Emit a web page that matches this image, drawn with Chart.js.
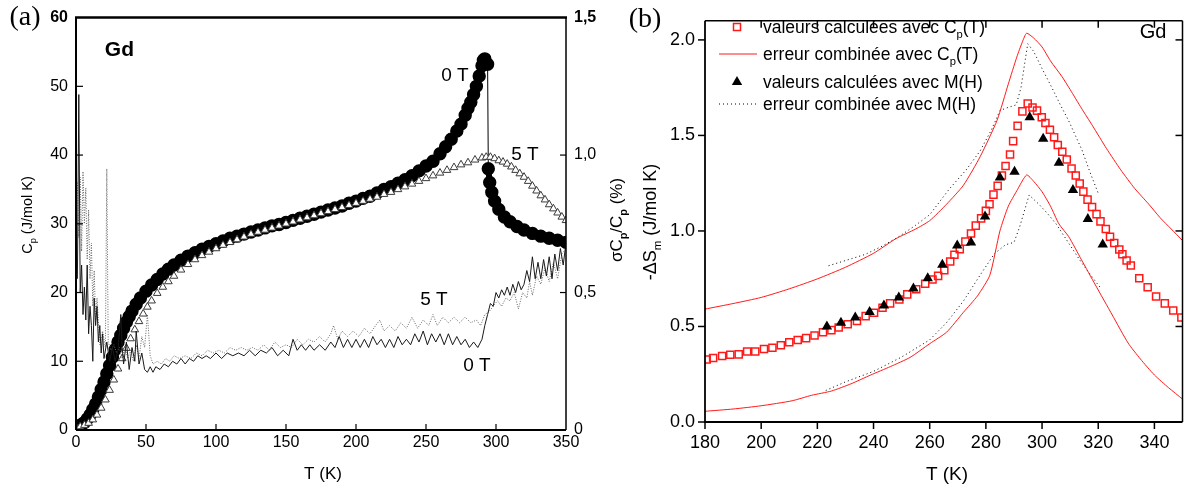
<!DOCTYPE html>
<html>
<head>
<meta charset="utf-8">
<script src="https://cdn.jsdelivr.net/npm/chart.js@4.4.1/dist/chart.umd.min.js"></script>
<style>
  body { margin: 0; background: #fff; width: 1189px; height: 490px; overflow: hidden; position: relative; }
  #wa { position: absolute; left: 0; top: 0; width: 600px; height: 490px; }
  #wb { position: absolute; left: 600px; top: 0; width: 589px; height: 490px; }
</style>
</head>
<body>
<div id="wa"><canvas id="ca"></canvas></div>
<div id="wb"><canvas id="cb"></canvas></div>
<script>
// ---- panel (a): Cp(T) of Gd, 0 T and 5 T ----
const cp0T_T = [0, 2, 4, 6, 8, 10, 12, 14, 16, 18, 20, 22, 24, 26, 28, 30, 32, 34, 36, 38, 40, 43, 46, 50, 54, 58, 62, 66, 70, 75,
  80, 85, 90, 95, 100, 105, 110, 115, 120, 125, 130, 135, 140, 145, 150, 155, 160, 165, 170, 175, 180, 185, 190, 195, 200,
  205, 210, 215, 220, 225, 230, 235, 240, 245, 250, 255, 260, 264, 268, 272, 275, 278, 280, 282, 284, 286, 288, 290, 291, 292, 294,
  294.5, 295.5, 297, 299, 302, 306, 310, 315, 320, 326, 332, 338, 344, 350];
const cp0T = [0.5, 0.6, 0.8, 1.1, 1.6, 2.2, 3.0, 3.8, 4.8, 5.9, 7.0, 8.2, 9.4, 10.6, 11.7, 12.8, 13.8, 14.8, 15.7, 16.5, 17.3, 18.3, 19.2, 20.2, 21.1, 21.9, 22.7, 23.4, 24.0, 24.7,
  25.3, 25.8, 26.3, 26.7, 27.1, 27.5, 27.9, 28.2, 28.5, 28.8, 29.1, 29.4, 29.7, 29.9, 30.2, 30.5, 30.8, 31.1, 31.4, 31.7, 32.0, 32.3, 32.6, 33.0, 33.3,
  33.7, 34.0, 34.5, 35.0, 35.4, 35.9, 36.4, 37.0, 37.7, 38.4, 39.1, 40.2, 41.2, 42.3, 43.5, 44.5, 45.8, 46.8, 47.7, 48.8, 50.0, 51.5, 53.0, 53.8, 54.0, 53.2,
  38.0, 36.0, 34.6, 33.3, 32.1, 31.0, 30.3, 29.6, 29.1, 28.6, 28.2, 27.9, 27.6, 27.3];

const cp5T_T = [0, 3, 6, 9, 12, 15, 18, 21, 24, 27, 30, 33, 36, 39, 42, 45, 48, 51, 54, 58, 62, 66, 70, 75, 80, 85, 90, 95,
  100, 105, 110, 115, 120, 125, 130, 135, 140, 145, 150, 155, 160, 165, 170, 175, 180, 185, 190, 195, 200, 205, 210, 215,
  220, 225, 230, 235, 240, 245, 250, 255, 260, 265, 270, 275, 280, 285, 290, 293, 296, 299, 302, 305, 308, 311, 314, 317,
  320, 323, 326, 329, 332, 335, 338, 341, 344, 347, 350];
const cp5T = [0.4, 0.5, 0.7, 1.0, 1.5, 2.2, 3.2, 4.4, 5.8, 7.3, 8.9, 10.4, 11.9, 13.3, 14.6, 15.8, 16.9, 17.9, 18.8, 19.9, 20.8, 21.6, 22.4, 23.3, 24.1, 24.8, 25.4, 25.9,
  26.4, 26.9, 27.3, 27.7, 28.1, 28.5, 28.8, 29.1, 29.4, 29.7, 30.0, 30.3, 30.6, 30.9, 31.2, 31.5, 31.8, 32.1, 32.4, 32.7, 33.0, 33.3, 33.6, 33.9,
  34.3, 34.6, 35.0, 35.4, 35.8, 36.2, 36.6, 37.0, 37.4, 37.8, 38.2, 38.6, 38.9, 39.3, 39.6, 39.7, 39.7, 39.5, 39.2, 39.0, 38.7, 38.3, 37.8, 37.3,
  36.8, 36.2, 35.5, 34.8, 34.1, 33.5, 32.8, 32.2, 31.6, 31.0, 30.5];

// relative error sigma(Cp)/Cp in %, right axis
const sig0T_T = [1, 2, 3, 4, 5, 6, 7, 8, 9, 10, 11, 12, 13, 14, 15, 16, 17, 18, 19, 20, 22, 24, 26, 28, 30, 32, 33, 34, 36, 38,
  40, 42, 43, 45, 47, 49, 51, 53, 55, 57, 60, 63, 66, 69, 72, 75, 78, 81, 84, 87, 90, 93, 96, 100, 104, 108, 112, 116, 120,
  124, 128, 132, 136, 140, 144, 148, 152, 155, 158, 161, 164, 167, 170, 174, 178, 182, 185, 188, 191, 194, 197, 200, 203,
  206, 209, 212, 215, 218, 221, 224, 227, 230, 233, 236, 239, 242, 245, 248, 251, 254, 257, 260, 263, 266, 269, 272, 275,
  278, 281, 284, 287, 290, 292, 294, 296, 298, 300, 302, 304, 306, 308, 310, 312, 314, 316, 318, 320, 322, 324, 326, 328,
  330, 332, 334, 336, 338, 340, 342, 344, 346, 348, 350];
const sig0T = [0.55, 1.22, 0.50, 0.60, 0.42, 0.52, 0.40, 0.60, 0.35, 0.45, 0.38, 0.25, 0.48, 0.38, 0.45, 0.32, 0.38, 0.28, 0.35, 0.26, 0.32, 0.25, 0.30, 0.25, 0.29, 0.42, 0.30, 0.24, 0.32, 0.22,
  0.30, 0.25, 0.36, 0.24, 0.28, 0.22, 0.21, 0.23, 0.21, 0.23, 0.22, 0.24, 0.23, 0.25, 0.24, 0.26, 0.24, 0.26, 0.25, 0.27, 0.26, 0.27, 0.26, 0.28, 0.26, 0.28, 0.27, 0.28, 0.27,
  0.29, 0.27, 0.29, 0.28, 0.30, 0.27, 0.29, 0.27, 0.33, 0.29, 0.31, 0.29, 0.31, 0.29, 0.31, 0.29, 0.32, 0.30, 0.34, 0.30, 0.33, 0.30, 0.33, 0.30,
  0.33, 0.30, 0.34, 0.31, 0.33, 0.30, 0.33, 0.30, 0.34, 0.31, 0.33, 0.31, 0.35, 0.32, 0.36, 0.31, 0.35, 0.32, 0.35, 0.31, 0.35, 0.31, 0.34, 0.31,
  0.33, 0.30, 0.32, 0.30, 0.33, 0.38, 0.42, 0.46, 0.45, 0.50, 0.48, 0.51, 0.49, 0.52, 0.49, 0.53, 0.50, 0.54, 0.51, 0.53, 0.58, 0.54, 0.63, 0.55,
  0.61, 0.55, 0.62, 0.56, 0.63, 0.55, 0.64, 0.58, 0.66, 0.60, 0.68];

const sig5T_T = [1, 2, 3, 4, 5, 6, 7, 8, 9, 10, 11, 12, 13, 14, 15, 17, 19, 21, 22, 23, 25, 27, 29, 31, 33, 35, 37, 39, 41, 43,
  45, 47, 49, 51, 53, 55, 58, 61, 64, 67, 70, 74, 78, 82, 86, 90, 94, 98, 102, 106, 110, 114, 118, 122, 126, 130, 134,
  138, 142, 146, 150, 154, 158, 162, 166, 170, 174, 178, 182, 184, 187, 190, 194, 198, 202, 206, 210, 214, 217, 220, 224,
  228, 232, 236, 240, 244, 248, 252, 255, 258, 262, 266, 270, 274, 278, 282, 286, 289, 292, 295, 298, 301, 304, 307, 310,
  313, 316, 319, 322, 324, 326, 329, 332, 335, 338, 341, 344, 347, 350];
const sig5T = [0.90, 0.70, 0.92, 0.65, 0.94, 0.75, 0.88, 0.62, 0.80, 0.55, 0.68, 0.45, 0.58, 0.40, 0.48, 0.31, 0.36, 0.30, 0.95, 0.32, 0.29, 0.31, 0.28, 0.30, 0.26, 0.30, 0.26, 0.29, 0.25, 0.31,
  0.26, 0.34, 0.30, 0.42, 0.27, 0.24, 0.25, 0.24, 0.26, 0.25, 0.27, 0.26, 0.27, 0.26, 0.28, 0.27, 0.29, 0.28, 0.29, 0.28, 0.30, 0.29, 0.30, 0.29, 0.30, 0.29, 0.31,
  0.29, 0.32, 0.30, 0.31, 0.30, 0.33, 0.31, 0.33, 0.32, 0.34, 0.32, 0.35, 0.38, 0.33, 0.36, 0.34, 0.36, 0.34, 0.37, 0.35, 0.38, 0.40, 0.36, 0.38,
  0.36, 0.39, 0.37, 0.41, 0.37, 0.40, 0.38, 0.42, 0.38, 0.41, 0.39, 0.41, 0.39, 0.41, 0.39, 0.40, 0.38, 0.42, 0.43, 0.45, 0.47, 0.45, 0.48, 0.47,
  0.50, 0.44, 0.50, 0.48, 0.54, 0.49, 0.56, 0.53, 0.59, 0.54, 0.61, 0.55, 0.64, 0.66];

// ---- panel (b): -dSm(T) of Gd ----
const cpT_T = [180.6, 182.9, 186.1, 189, 192, 195, 197.9, 201, 204, 207, 210, 213, 216, 219, 222, 225, 227.6, 230.8, 234.1,
  237.2, 240.2, 243.2, 245.9, 249.2, 252, 255.2, 258.4, 261, 263, 265.2, 267.3, 268.8, 270.7, 272.7, 274.7, 276.4, 278.3, 280,
  281.3, 282.7, 284.2, 285.7, 287, 288.6, 289.7, 291.3, 293, 294.9, 296.6, 298.2, 299.9, 301.2, 302.8, 304.3, 305.6, 307.2,
  308.8, 310.5, 312, 313.4, 314.7, 316.2, 317.8, 319.4, 320.8, 322.7, 324.2, 325.7, 327.5, 328.6, 330.1, 331.6, 334.6, 337.6,
  340.6, 343.7, 346.7, 349.6];
const cpT_dS = [0.327, 0.335, 0.345, 0.352, 0.354, 0.369, 0.369, 0.382, 0.389, 0.402, 0.417, 0.429, 0.439, 0.453, 0.470, 0.481, 0.495, 0.512, 0.529,
  0.554, 0.572, 0.598, 0.621, 0.641, 0.668, 0.695, 0.724, 0.746, 0.765, 0.795, 0.84, 0.875, 0.905, 0.944, 0.987, 1.028, 1.066, 1.105,
  1.14, 1.19, 1.236, 1.29, 1.34, 1.40, 1.47, 1.55, 1.626, 1.667, 1.646, 1.63, 1.595, 1.565, 1.53, 1.49, 1.45, 1.415,
  1.374, 1.327, 1.29, 1.248, 1.206, 1.164, 1.125, 1.088, 1.05, 1.01, 0.97, 0.937, 0.903, 0.878, 0.845, 0.819, 0.752, 0.705,
  0.657, 0.621, 0.584, 0.547];

const mH_T = [223.4, 228.4, 233.5, 238.6, 243.7, 249, 254.2, 259.3, 264.5, 269.8, 274.7, 279.7, 285, 290.2, 295.6, 300.4, 306, 311, 316.3, 321.6];
const mH_dS = [0.500, 0.52, 0.547, 0.576, 0.61, 0.652, 0.699, 0.752, 0.823, 0.924, 0.94, 1.075, 1.28, 1.31, 1.595, 1.483, 1.357, 1.214, 1.063, 0.929];

const errCpHi_T = [180, 190, 200, 210, 220, 230, 240, 248, 255, 260, 266, 272, 278, 284, 288, 291, 293, 294.5, 297, 300, 303, 307, 310, 314, 318, 323, 328, 333, 338, 342, 346, 350];
const errCpHi = [0.591, 0.62, 0.652, 0.697, 0.749, 0.81, 0.883, 0.96, 1.01, 1.054, 1.14, 1.239, 1.39, 1.58, 1.77, 1.91, 1.99, 2.035, 2.01, 1.963, 1.89, 1.81, 1.74, 1.643, 1.55, 1.43, 1.32, 1.222, 1.14, 1.07, 1.01, 0.95];
const errCpLo_T = [180, 190, 200, 211, 218, 225, 232, 239, 246, 253, 260, 266, 272, 277, 281.4, 285, 288, 291, 294.5, 297, 300, 303, 306, 309.5, 314, 319, 325, 330.6, 335, 340, 345, 350];
const errCpLo = [0.056, 0.068, 0.085, 0.111, 0.14, 0.162, 0.2, 0.246, 0.29, 0.338, 0.41, 0.47, 0.574, 0.66, 0.768, 1.0, 1.13, 1.21, 1.293, 1.26, 1.205, 1.13, 1.037, 0.97, 0.85, 0.717, 0.56, 0.414, 0.33, 0.246, 0.18, 0.12];

const errMHi_T = [224, 230, 237, 243, 249, 255, 260, 267, 273, 278, 282, 285, 287.2, 290.8, 292.5, 294.9, 297, 300, 303.7, 306.5, 309.5, 314.2, 317, 320];
const errMHi = [0.818, 0.845, 0.877, 0.92, 0.97, 1.03, 1.085, 1.22, 1.32, 1.42, 1.53, 1.63, 1.643, 1.66, 1.75, 1.98, 1.94, 1.85, 1.744, 1.66, 1.576, 1.424, 1.31, 1.197];
const errMLo_T = [223, 230, 240, 250, 260, 266, 272, 278, 283, 287, 290, 292, 295.4, 299, 302, 305, 309.5, 314, 320, 321];
const errMLo = [0.165, 0.21, 0.265, 0.34, 0.43, 0.52, 0.633, 0.77, 0.88, 0.928, 0.94, 1.02, 1.188, 1.138, 1.09, 1.037, 0.936, 0.835, 0.717, 0.7];

const SANS = "'Liberation Sans', Arial, Helvetica, sans-serif";
const SERIF = "'Liberation Serif', 'Times New Roman', serif";
const RED = '#ff1a1a';

Chart.defaults.color = '#000';

const pts = (xs, ys) => xs.map((x, i) => ({ x: x, y: ys[i] }));

function seg(ctx, x1, y1, x2, y2, w) {
  ctx.lineWidth = w;
  ctx.beginPath();
  ctx.moveTo(x1, y1);
  ctx.lineTo(x2, y2);
  ctx.stroke();
}

// text with subscripts: parts = [{t, sub, b}]
function richText(ctx, parts, x, y, size, opts) {
  const o = Object.assign({ align: 'center', rot: 0 }, opts);
  const fontOf = p => (p.b ? 'bold ' : '') + (p.sub ? size * 0.64 : size) + 'px ' + SANS;
  ctx.save();
  ctx.translate(x, y);
  ctx.rotate(o.rot);
  ctx.fillStyle = '#000';
  ctx.textBaseline = 'middle';
  ctx.textAlign = 'left';
  let w = 0;
  parts.forEach(p => { ctx.font = fontOf(p); w += ctx.measureText(p.t).width; });
  let cx = o.align === 'center' ? -w / 2 : 0;
  parts.forEach(p => {
    ctx.font = fontOf(p);
    ctx.fillText(p.t, cx, p.sub ? size * 0.4 : 0);
    cx += ctx.measureText(p.t).width;
  });
  ctx.restore();
}

const decorA = {
  id: 'decorA',
  afterDraw(chart) {
    const { ctx, chartArea: a, scales } = chart;
    const x = scales.x, y = scales.y, y1 = scales.y1;
    ctx.save();
    ctx.strokeStyle = '#000';
    seg(ctx, a.left - 1, a.top, a.right + 1, a.top, 2.5);
    seg(ctx, a.left, a.top, a.left, a.bottom, 2);
    seg(ctx, a.right, a.top, a.right, a.bottom, 1.5);
    seg(ctx, a.left, a.bottom, a.right, a.bottom, 2);
    // inward ticks
    x.ticks.forEach(t => {
      if (t.value <= x.min || t.value >= x.max) return;
      const px = x.getPixelForValue(t.value);
      seg(ctx, px, a.bottom, px, a.bottom - 6, 1.2);
    });
    y.ticks.forEach(t => {
      if (t.value <= y.min || t.value >= y.max) return;
      const py = y.getPixelForValue(t.value);
      seg(ctx, a.left, py, a.left + 7, py, 1.2);
    });
    y1.ticks.forEach(t => {
      if (t.value <= y1.min || t.value >= y1.max) return;
      const py = y1.getPixelForValue(t.value);
      seg(ctx, a.right, py, a.right - 6, py, 1.2);
    });

    ctx.fillStyle = '#000';
    ctx.textAlign = 'center';
    ctx.textBaseline = 'middle';
    ctx.font = 'bold 21px ' + SANS;
    ctx.fillText('Gd', x.getPixelForValue(31), y.getPixelForValue(55.3));
    ctx.font = '19px ' + SANS;
    ctx.fillText('0 T', x.getPixelForValue(270.7), y.getPixelForValue(51.6));
    ctx.fillText('5 T', x.getPixelForValue(320.7), y.getPixelForValue(40));
    ctx.fillText('5 T', x.getPixelForValue(255.7), y.getPixelForValue(19));
    ctx.fillText('0 T', x.getPixelForValue(286.4), y.getPixelForValue(9.3));

    ctx.font = '28px ' + SERIF;
    ctx.fillText('(a)', 25, 18);

    ctx.font = '17px ' + SANS;
    ctx.fillText('T (K)', (a.left + a.right) / 2 + 2, 474);
    richText(ctx, [{ t: 'C' }, { t: 'p', sub: true }, { t: ' (J/mol K)' }], 28, 215, 14.5, { rot: -Math.PI / 2 });
    ctx.restore();
  }
};

new Chart(document.getElementById('ca'), {
  type: 'scatter',
  data: {
    datasets: [
      { label: 'sigma 0 T', data: pts(sig0T_T, sig0T), yAxisID: 'y1', showLine: true, borderColor: '#1a1a1a',
        borderWidth: 1, pointRadius: 0, order: 0 },
      { label: 'sigma 5 T', data: pts(sig5T_T, sig5T), yAxisID: 'y1', showLine: true, borderColor: '#666',
        borderWidth: 1, borderDash: [1, 1.5], pointRadius: 0, order: 0 },
      { label: 'Cp 5 T', data: pts(cp5T_T, cp5T), yAxisID: 'y', showLine: false, pointStyle: 'triangle',
        pointRadius: 4.4, backgroundColor: '#fff', borderColor: '#3a3a3a', borderWidth: 1, order: 1 },
      { label: 'Cp 0 T', data: pts(cp0T_T, cp0T), yAxisID: 'y', showLine: true, borderColor: '#000', borderWidth: 6,
        segment: { borderWidth: c => (cp0T_T[c.p0DataIndex] === 294 ? 1 : 6) },
        pointRadius: 3.7, backgroundColor: '#000', pointBorderColor: '#000', order: 2 }
    ]
  },
  options: {
    animation: false,
    responsive: true,
    maintainAspectRatio: false,
    layout: { padding: { top: 10, left: 0, right: 0, bottom: 0 } },
    plugins: { legend: { display: false }, tooltip: { enabled: false } },
    scales: {
      x: {
        type: 'linear', min: 0, max: 350,
        grid: { drawOnChartArea: false, drawTicks: false }, border: { display: false },
        ticks: { stepSize: 50, includeBounds: false, autoSkip: false, maxRotation: 0, padding: 3, color: '#000',
          font: { family: SANS, size: 16 } },
        afterFit: s => { s.height = 60; }
      },
      y: {
        position: 'left', min: 0, max: 60,
        grid: { drawOnChartArea: false, drawTicks: false }, border: { display: false },
        ticks: { stepSize: 10, includeBounds: false, padding: 8, color: '#000',
          font: c => ({ family: SANS, size: 16, weight: c.tick && c.tick.value === 60 ? 'bold' : 'normal' }) },
        afterFit: s => { s.width = 76; }
      },
      y1: {
        position: 'right', min: 0, max: 1.5,
        grid: { drawOnChartArea: false, drawTicks: false }, border: { display: false },
        ticks: { stepSize: 0.5, includeBounds: false, padding: 8, color: '#000',
          callback: v => (v === 0 ? '0' : v.toFixed(1).replace('.', ',')),
          font: c => ({ family: SANS, size: 16, weight: c.tick && c.tick.value === 1.5 ? 'bold' : 'normal' }) },
        afterFit: s => { s.width = 34; }
      }
    }
  },
  plugins: [decorA]
});

const decorB = {
  id: 'decorB',
  afterDraw(chart) {
    const { ctx, chartArea: a, scales } = chart;
    const x = scales.x, y = scales.y;
    ctx.save();
    ctx.strokeStyle = '#000';
    seg(ctx, a.left, a.top, a.right, a.top, 1.5);
    seg(ctx, a.left, a.top, a.left, a.bottom + 1, 1.8);
    seg(ctx, a.right, a.top, a.right, a.bottom, 1.5);
    seg(ctx, a.left - 1, a.bottom, a.right, a.bottom, 1.8);
    x.ticks.forEach(t => {
      const px = x.getPixelForValue(t.value);
      seg(ctx, px, a.bottom, px, a.bottom + 7, 1.5);
      if (t.value > x.min) seg(ctx, px, a.top, px, a.top + 7, 1.5);
    });
    y.ticks.forEach(t => {
      const py = y.getPixelForValue(t.value);
      seg(ctx, a.left, py, a.left - 7, py, 1.5);
      if (t.value > y.min) seg(ctx, a.right, py, a.right - 7, py, 1.5);
    });

    // legend
    const mx = 137, lx1 = 119, lx2 = 157, tx = 163;
    ctx.strokeStyle = RED;
    ctx.lineWidth = 1.5;
    ctx.strokeRect(mx - 3.5, 27 - 3.5, 7, 7);
    seg(ctx, lx1, 54, lx2, 54, 1);
    ctx.fillStyle = '#000';
    ctx.beginPath();
    ctx.moveTo(mx, 82 - 6);
    ctx.lineTo(mx + 5.2, 82 + 3);
    ctx.lineTo(mx - 5.2, 82 + 3);
    ctx.closePath();
    ctx.fill();
    ctx.strokeStyle = '#000';
    ctx.setLineDash([1, 3]);
    seg(ctx, lx1, 104, lx2, 104, 1);
    ctx.setLineDash([]);

    const L = 17.5;
    richText(ctx, [{ t: 'valeurs calculées avec C' }, { t: 'p', sub: true }, { t: '(T)' }], tx, 28, L, { align: 'left' });
    richText(ctx, [{ t: 'erreur combinée avec C' }, { t: 'p', sub: true }, { t: '(T)' }], tx, 55, L, { align: 'left' });
    richText(ctx, [{ t: 'valeurs calculées avec M(H)' }], tx, 83, L, { align: 'left' });
    richText(ctx, [{ t: 'erreur combinée avec M(H)' }], tx, 105, L, { align: 'left' });

    ctx.fillStyle = '#000';
    ctx.textAlign = 'center';
    ctx.textBaseline = 'middle';
    ctx.font = '20px ' + SANS;
    ctx.fillText('Gd', 553, 32);
    ctx.font = '19px ' + SANS;
    ctx.fillText('T (K)', 347, 475);
    ctx.font = '28px ' + SERIF;
    ctx.fillText('(b)', 45, 20);

    richText(ctx, [{ t: 'σC' }, { t: 'p', sub: true, b: true }, { t: '/C' }, { t: 'p', sub: true, b: true }, { t: ' (%)' }],
      17, 220, 17, { rot: -Math.PI / 2 });
    richText(ctx, [{ t: '-ΔS' }, { t: 'm', sub: true }, { t: ' (J/mol K)' }], 51, 222, 18, { rot: -Math.PI / 2 });
    ctx.restore();
  }
};

new Chart(document.getElementById('cb'), {
  type: 'scatter',
  data: {
    datasets: [
      { label: 'valeurs calculées avec M(H)', data: pts(mH_T, mH_dS), pointStyle: 'triangle', pointRadius: 6,
        backgroundColor: '#000', borderColor: '#000', borderWidth: 0, order: 0 },
      { label: 'valeurs calculées avec Cp(T)', data: pts(cpT_T, cpT_dS), pointStyle: 'rect', pointRadius: 5,
        backgroundColor: 'rgba(0,0,0,0)', borderColor: RED, borderWidth: 1.5, order: 1 },
      { label: 'erreur combinée avec Cp(T)', data: pts(errCpHi_T, errCpHi), showLine: true, pointRadius: 0,
        borderColor: RED, borderWidth: 1, tension: 0.2, order: 2 },
      { label: 'erreur combinée avec Cp(T) bas', data: pts(errCpLo_T, errCpLo), showLine: true, pointRadius: 0,
        borderColor: RED, borderWidth: 1, tension: 0.2, order: 2 },
      { label: 'erreur combinée avec M(H)', data: pts(errMHi_T, errMHi), showLine: true, pointRadius: 0,
        borderColor: '#000', borderWidth: 1, borderDash: [1, 3], order: 3 },
      { label: 'erreur combinée avec M(H) bas', data: pts(errMLo_T, errMLo), showLine: true, pointRadius: 0,
        borderColor: '#000', borderWidth: 1, borderDash: [1, 3], order: 3 }
    ]
  },
  options: {
    animation: false,
    responsive: true,
    maintainAspectRatio: false,
    layout: { padding: { top: 6, left: 0, right: 1, bottom: 0 } },
    plugins: { legend: { display: false }, tooltip: { enabled: false } },
    scales: {
      x: {
        type: 'linear', min: 180, max: 350,
        grid: { drawOnChartArea: false, drawTicks: false }, border: { display: false },
        ticks: { stepSize: 20, includeBounds: false, autoSkip: false, maxRotation: 0, padding: 10, color: '#000',
          font: { family: SANS, size: 18 } },
        afterFit: s => { s.height = 68; }
      },
      y: {
        min: 0, max: 2.1,
        grid: { drawOnChartArea: false, drawTicks: false }, border: { display: false },
        ticks: { stepSize: 0.5, includeBounds: false, padding: 10, color: '#000',
          callback: v => v.toFixed(1), font: { family: SANS, size: 18 } },
        afterFit: s => { s.width = 105; }
      }
    }
  },
  plugins: [decorB]
});
</script>
</body>
</html>
